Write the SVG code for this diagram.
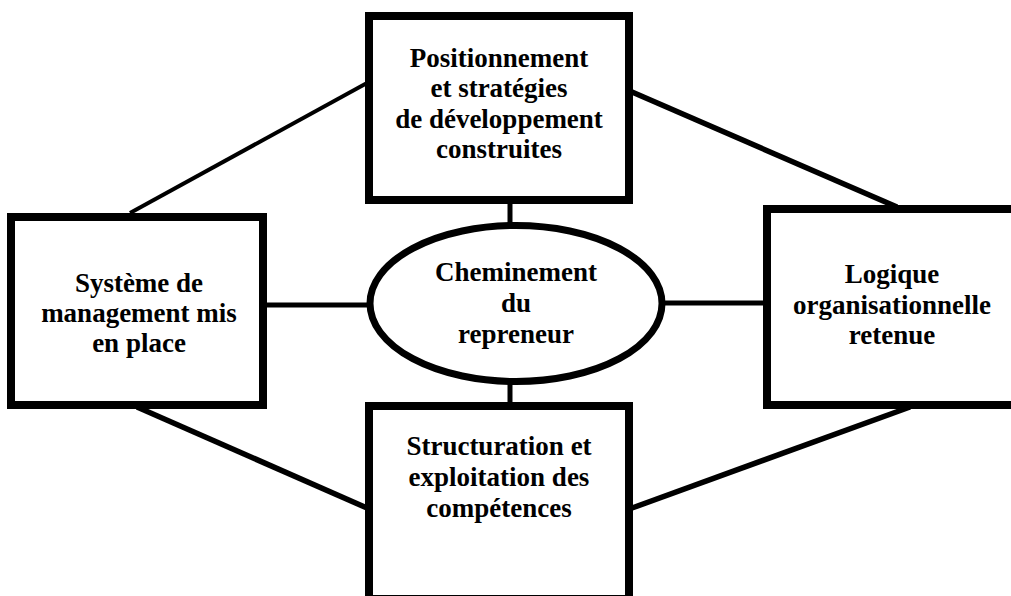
<svg xmlns="http://www.w3.org/2000/svg" width="1011" height="596" viewBox="0 0 1011 596">
<style>
.box{fill:#fff;stroke:#000;stroke-width:8}
.ell{fill:#fff;stroke:#000;stroke-width:7}
.c{stroke:#000;fill:none}
.t{font-family:"Liberation Serif","Times New Roman",serif;font-weight:bold;font-size:27px;fill:#000;text-anchor:middle}
</style>
<rect width="1011" height="596" fill="#fff"/>
<g id="connectors">
<line class="c" x1="130" y1="213" x2="367" y2="83" stroke-width="4"/>
<line class="c" x1="632" y1="92" x2="897" y2="207" stroke-width="5.5"/>
<line class="c" x1="137" y1="407" x2="367" y2="508" stroke-width="5.5"/>
<line class="c" x1="632" y1="508" x2="910" y2="407" stroke-width="5.5"/>
<line class="c" x1="510" y1="200" x2="510" y2="225" stroke-width="5"/>
<line class="c" x1="510" y1="382" x2="510" y2="406" stroke-width="5"/>
<line class="c" x1="263" y1="305" x2="370" y2="305" stroke-width="5"/>
<line class="c" x1="662" y1="303" x2="767" y2="303" stroke-width="5"/>
</g>
<g id="top">
<rect class="box" x="369" y="16" width="260" height="184"/>
<text class="t" x="499" y="67">Positionnement</text>
<text class="t" x="499" y="97">et stratégies</text>
<text class="t" x="499" y="128">de développement</text>
<text class="t" x="499" y="158">construites</text>
</g>
<g id="left">
<rect class="box" x="11" y="217" width="252" height="188"/>
<text class="t" x="139" y="292">Système de</text>
<text class="t" x="139" y="322">management mis</text>
<text class="t" x="139" y="352">en place</text>
</g>
<g id="right">
<rect class="box" x="767" y="209" width="260" height="196"/>
<text class="t" x="892" y="283">Logique</text>
<text class="t" x="892" y="314">organisationnelle</text>
<text class="t" x="892" y="344">retenue</text>
</g>
<g id="center">
<ellipse class="ell" cx="516" cy="303.5" rx="146" ry="78"/>
<text class="t" x="516" y="281">Cheminement</text>
<text class="t" x="516" y="312">du</text>
<text class="t" x="516" y="343">repreneur</text>
</g>
<g id="bottom">
<rect class="box" x="369" y="406" width="260" height="193"/>
<text class="t" x="499" y="455">Structuration et</text>
<text class="t" x="499" y="486">exploitation des</text>
<text class="t" x="499" y="517">compétences</text>
</g>
</svg>
